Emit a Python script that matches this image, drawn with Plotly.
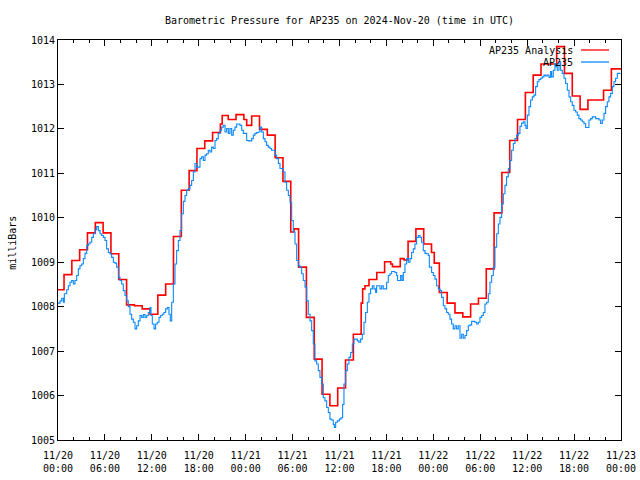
import pandas as pd
import plotly.graph_objects as go

title_text = "Barometric Pressure for AP235 on 2024-Nov-20 (time in UTC)"
y_label = "milliBars"
series_names = ["AP235 Analysis", "AP235"]
start_time = "2024-11-20 00:00"

# Analysis (hourly step values), hours since start
analysis_hours = [0, 0.77, 1.77, 2.77, 3.77, 4.77, 5.77, 6.77, 7.77, 8.77, 9.77, 10.77,
                  11.77, 12.77, 13.77, 14.77, 15.77, 16.77, 17.77, 18.77, 19.77, 20.77,
                  21.0, 21.77, 22.77, 23.77, 24.13, 24.77, 25.77, 26.77, 27.77, 28.77,
                  29.77, 30.18, 30.77, 31.77, 32.77, 33.77, 34.77, 35.77, 36.77, 37.77,
                  38.77, 38.96, 39.26, 39.77, 40.77, 41.77, 42.55, 42.77, 43.77, 44.25,
                  44.77, 45.77, 46.77, 47.77, 48.12, 48.77, 49.77, 50.77, 51.77, 52.77,
                  53.77, 54.77, 55.77, 56.77, 57.77, 58.77, 59.77, 60.77, 61.77, 63.77,
                  64.77, 65.77, 66.77, 67.77, 69.77, 70.77, 72.0]
analysis_values = [1008.38, 1008.72, 1009.04, 1009.28, 1009.66, 1009.89, 1009.66, 1009.19,
                   1008.61, 1008.04, 1008.02, 1007.95, 1007.83, 1008.26, 1008.51, 1009.58,
                   1010.62, 1011.06, 1011.56, 1011.73, 1011.92, 1012.11, 1012.30, 1012.21,
                   1012.32, 1012.21, 1012.08, 1012.29, 1011.99, 1011.86, 1011.35, 1010.82,
                   1009.68, 1009.75, 1008.89, 1007.76, 1006.82, 1006.03, 1005.77, 1006.17,
                   1006.80, 1007.38, 1008.08, 1008.40, 1008.47, 1008.61, 1008.77, 1009.01,
                   1008.96, 1008.90, 1009.08, 1009.05, 1009.47, 1009.75, 1009.41, 1009.22,
                   1008.98, 1008.32, 1008.08, 1007.86, 1007.77, 1008.06, 1008.19, 1008.85,
                   1010.11, 1011.02, 1011.74, 1012.21, 1012.82, 1013.21, 1013.46, 1013.85,
                   1013.25, 1012.74, 1012.44, 1012.65, 1012.87, 1013.35, 1013.35]

# Observed station values, hours since start
obs_hours = [0.00, 0.26, 0.47, 0.68, 0.81, 1.11, 1.32, 1.53, 1.75, 1.96, 2.17, 2.39, 2.60,
             2.81, 3.03, 3.24, 3.45, 3.67, 3.88, 4.09, 4.31, 4.52, 4.73, 4.94, 5.16, 5.37,
             5.58, 5.80, 6.01, 6.22, 6.44, 6.65, 6.86, 7.08, 7.29, 7.50, 7.72, 7.93, 8.14,
             8.35, 8.57, 8.78, 8.99, 9.21, 9.42, 9.63, 9.85, 10.06, 10.27, 10.49, 10.70,
             10.91, 11.13, 11.34, 11.55, 11.76, 11.89, 12.06, 12.28, 12.49, 12.70, 12.92,
             13.13, 13.34, 13.55, 13.77, 13.98, 14.19, 14.36, 14.54, 14.75, 14.96, 15.17,
             15.39, 15.60, 15.81, 16.03, 16.24, 16.45, 16.67, 16.88, 17.09, 17.31, 17.52,
             17.73, 17.95, 18.16, 18.37, 18.59, 18.80, 19.01, 19.22, 19.44, 19.65, 19.86,
             20.08, 20.29, 20.50, 20.72, 20.93, 21.14, 21.36, 21.57, 21.78, 21.99, 22.21,
             22.42, 22.63, 22.85, 23.06, 23.27, 23.49, 23.70, 23.91, 24.13, 24.34, 24.55,
             24.77, 24.98, 25.19, 25.41, 25.62, 25.83, 26.04, 26.26, 26.47, 26.68, 26.90,
             27.11, 27.32, 27.54, 27.75, 27.96, 28.18, 28.39, 28.60, 28.82, 29.03, 29.24,
             29.46, 29.67, 29.88, 30.09, 30.31, 30.52, 30.73, 30.95, 31.16, 31.37, 31.59,
             31.80, 32.01, 32.23, 32.44, 32.65, 32.86, 33.08, 33.29, 33.50, 33.72, 33.93,
             34.14, 34.36, 34.57, 34.78, 35.00, 35.21, 35.34, 35.51, 35.72, 35.98, 36.19,
             36.40, 36.57, 36.79, 37.00, 37.21, 37.43, 37.64, 37.85, 38.06, 38.28, 38.49,
             38.70, 38.92, 39.13, 39.34, 39.56, 39.77, 39.98, 40.20, 40.41, 40.62, 40.75,
             40.96, 41.18, 41.39, 41.60, 41.82, 42.03, 42.24, 42.46, 42.67, 42.88, 43.09,
             43.31, 43.43, 43.65, 43.82, 43.99, 44.16, 44.37, 44.59, 44.80, 45.01, 45.22,
             45.44, 45.65, 45.86, 46.08, 46.29, 46.50, 46.72, 46.93, 47.14, 47.36, 47.49,
             47.78, 48.00, 48.21, 48.42, 48.64, 48.85, 49.06, 49.28, 49.49, 49.70, 49.91,
             50.13, 50.34, 50.55, 50.77, 50.98, 51.19, 51.41, 51.62, 51.83, 52.05, 52.26,
             52.47, 52.69, 52.90, 53.11, 53.32, 53.54, 53.75, 53.96, 54.18, 54.39, 54.60,
             54.82, 55.03, 55.24, 55.46, 55.67, 55.88, 56.10, 56.31, 56.52, 56.73, 56.95,
             57.16, 57.37, 57.59, 57.80, 58.01, 58.23, 58.44, 58.65, 58.87, 59.08, 59.29,
             59.51, 59.72, 59.85, 60.02, 60.23, 60.44, 60.66, 60.87, 61.08, 61.30, 61.51,
             61.72, 61.94, 62.15, 62.36, 62.57, 62.79, 63.00, 63.13, 63.34, 63.55, 63.68,
             63.85, 64.07, 64.28, 64.49, 64.71, 64.92, 65.13, 65.35, 65.56, 65.77, 65.98,
             66.20, 66.41, 66.62, 66.84, 67.05, 67.26, 67.48, 67.69, 67.90, 68.12, 68.33,
             68.54, 68.76, 68.97, 69.18, 69.40, 69.61, 69.82, 70.03, 70.25, 70.46, 70.67,
             70.89, 71.10, 71.31, 71.53, 71.74, 71.95]
obs_values = [1008.08, 1008.13, 1008.19, 1008.10, 1008.29, 1008.38, 1008.47, 1008.55, 1008.59,
              1008.51, 1008.59, 1008.70, 1008.85, 1008.92, 1008.96, 1009.08, 1009.20, 1009.38,
              1009.41, 1009.45, 1009.56, 1009.64, 1009.73, 1009.80, 1009.71, 1009.64, 1009.60,
              1009.56, 1009.49, 1009.30, 1009.22, 1009.19, 1009.11, 1009.00, 1008.98, 1008.89,
              1008.66, 1008.59, 1008.51, 1008.36, 1008.25, 1008.13, 1008.00, 1007.83, 1007.72,
              1007.65, 1007.50, 1007.57, 1007.68, 1007.80, 1007.76, 1007.82, 1007.76, 1007.80,
              1007.87, 1007.98, 1007.80, 1007.61, 1007.50, 1007.61, 1007.65, 1007.76, 1007.80,
              1007.83, 1007.87, 1007.95, 1007.98, 1007.83, 1007.68, 1008.10, 1008.51, 1008.96,
              1009.26, 1009.49, 1009.71, 1010.09, 1010.37, 1010.50, 1010.62, 1010.65, 1010.73,
              1010.84, 1011.03, 1011.22, 1011.14, 1011.14, 1011.33, 1011.37, 1011.29, 1011.41,
              1011.44, 1011.52, 1011.48, 1011.59, 1011.56, 1011.74, 1011.78, 1011.90, 1011.97,
              1012.04, 1012.08, 1011.93, 1012.01, 1011.90, 1012.01, 1011.86, 1011.97, 1012.04,
              1012.11, 1012.11, 1012.08, 1011.97, 1011.90, 1011.90, 1011.74, 1011.73, 1011.73,
              1011.78, 1011.86, 1011.90, 1011.92, 1011.93, 1012.04, 1011.93, 1011.78, 1011.71,
              1011.63, 1011.59, 1011.56, 1011.52, 1011.52, 1011.41, 1011.33, 1011.22, 1011.11,
              1011.11, 1011.03, 1010.80, 1010.62, 1010.50, 1010.35, 1009.94, 1009.68, 1009.41,
              1009.04, 1008.92, 1008.89, 1008.74, 1008.59, 1008.44, 1008.13, 1007.83, 1007.68,
              1007.46, 1007.16, 1006.78, 1006.71, 1006.56, 1006.41, 1006.26, 1005.95, 1005.88,
              1005.73, 1005.62, 1005.47, 1005.45, 1005.35, 1005.28, 1005.40, 1005.43, 1005.47,
              1005.50, 1005.80, 1006.26, 1006.56, 1006.71, 1006.86, 1006.97, 1007.16, 1007.27,
              1007.27, 1007.23, 1007.20, 1007.27, 1007.38, 1007.65, 1007.87, 1008.10, 1008.29,
              1008.40, 1008.47, 1008.40, 1008.32, 1008.47, 1008.47, 1008.40, 1008.47, 1008.40,
              1008.40, 1008.55, 1008.70, 1008.74, 1008.79, 1008.79, 1008.77, 1008.70, 1008.59,
              1008.59, 1008.70, 1008.59, 1008.77, 1008.96, 1009.08, 1009.00, 1009.08, 1009.22,
              1009.30, 1009.41, 1009.56, 1009.60, 1009.56, 1009.45, 1009.26, 1009.20, 1009.19,
              1009.15, 1008.89, 1008.77, 1008.70, 1008.62, 1008.47, 1008.40, 1008.36, 1008.21,
              1008.02, 1007.95, 1007.87, 1007.83, 1007.72, 1007.61, 1007.50, 1007.57, 1007.50,
              1007.57, 1007.29, 1007.38, 1007.29, 1007.35, 1007.46, 1007.57, 1007.59, 1007.67,
              1007.67, 1007.65, 1007.61, 1007.65, 1007.76, 1007.80, 1007.87, 1008.06, 1008.10,
              1008.29, 1008.55, 1008.70, 1008.89, 1009.34, 1009.64, 1009.86, 1010.01, 1010.31,
              1010.54, 1010.73, 1010.92, 1011.11, 1011.29, 1011.52, 1011.67, 1011.78, 1011.86,
              1011.90, 1012.06, 1012.13, 1012.16, 1012.08, 1012.01, 1012.31, 1012.50, 1012.65,
              1012.72, 1012.76, 1012.95, 1013.06, 1013.11, 1013.14, 1013.17, 1013.21, 1013.19,
              1013.21, 1013.16, 1013.29, 1013.17, 1013.32, 1013.47, 1013.40, 1013.32, 1013.51,
              1013.32, 1013.25, 1013.14, 1013.02, 1012.87, 1012.72, 1012.61, 1012.53, 1012.42,
              1012.38, 1012.31, 1012.23, 1012.20, 1012.16, 1012.12, 1012.03, 1012.03, 1012.20,
              1012.23, 1012.27, 1012.27, 1012.23, 1012.23, 1012.20, 1012.12, 1012.20, 1012.35,
              1012.50, 1012.61, 1012.72, 1012.80, 1012.95, 1013.06, 1013.14, 1013.25, 1013.25,
              1013.25]

colors = ["#ff0000", "#0a88ff"]
FONT = "DejaVu Sans Mono"

t0 = pd.Timestamp(start_time)
x_an = t0 + pd.to_timedelta(analysis_hours, unit="h")
x_ob = t0 + pd.to_timedelta(obs_hours, unit="h")

fig = go.Figure()
fig.add_trace(go.Scatter(x=x_an, y=analysis_values, mode="lines", name=series_names[0],
                         line=dict(color=colors[0], width=1.6, shape="hv")))
fig.add_trace(go.Scatter(x=x_ob, y=obs_values, mode="lines", name=series_names[1],
                         line=dict(color=colors[1], width=1.1, shape="hv")))

axis_common = dict(showline=True, linecolor="black", linewidth=1, mirror="ticks",
                   ticks="inside", tickcolor="black", showgrid=False, zeroline=False,
                   automargin=False,
                   tickfont=dict(family=FONT, size=10, color="black"))

fig.update_xaxes(**axis_common, type="date",
                 range=[t0, t0 + pd.Timedelta(hours=72)],
                 tick0=t0, dtick=6 * 3600 * 1000, ticklen=6,
                 tickformat="%m/%d<br>%H:%M", ticklabelstandoff=6,
                 minor=dict(dtick=2 * 3600 * 1000, ticks="inside", ticklen=3,
                            tickcolor="black", showgrid=False))
fig.update_yaxes(**axis_common, range=[1005, 1014], dtick=1, ticklen=6,
                 tickformat="d")

# legend drawn gnuplot-style (text left of sample)
leg_y = [0.975, 0.945]
for name, c, yy in zip(series_names, colors, leg_y):
    fig.add_annotation(xref="paper", yref="paper", x=0.9175, y=yy, text=name,
                       showarrow=False, xanchor="right", yanchor="middle",
                       font=dict(family=FONT, size=10, color="black"))
    fig.add_shape(type="line", xref="paper", yref="paper", x0=0.929, x1=0.9787,
                  y0=yy, y1=yy, line=dict(color=c, width=1.3))

fig.add_annotation(xref="paper", yref="paper", x=-0.082, y=0.4925, text=y_label,
                   showarrow=False, textangle=-90, xanchor="center", yanchor="middle",
                   font=dict(family=FONT, size=10, color="black"))

fig.update_layout(
    width=640, height=480,
    margin=dict(l=58, r=19, t=40, b=40),
    paper_bgcolor="white", plot_bgcolor="white",
    showlegend=False,
    title=dict(text=title_text, x=0.5, xref="paper", y=1 - 20 / 480, yanchor="middle",
               font=dict(family=FONT, size=10, color="black")),
)

fig.write_html("out.html", config={"displayModeBar": False},
               post_script="document.body.style.margin='0';")
